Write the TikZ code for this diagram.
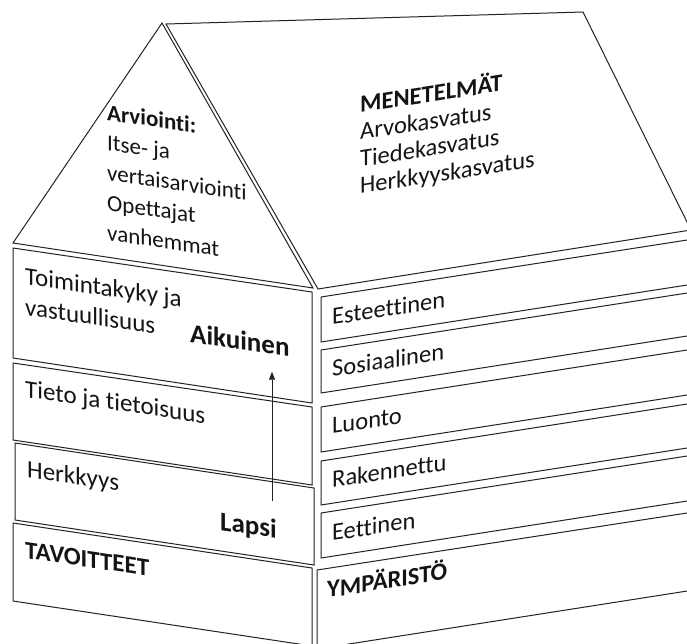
\documentclass[tikz,border=0pt]{standalone}
\usepackage{fontspec}
\setmainfont{Carlito}[Ligatures=NoCommon]
\usetikzlibrary{arrows.meta}
\definecolor{edgecol}{RGB}{35,35,35}
\definecolor{txtcol}{RGB}{20,20,20}
\tikzset{
  wall/.style={draw=edgecol, line width=1pt, fill=white},
  fronttxt/.style={anchor=base west, inner sep=0pt, align=left, yslant=-0.147,
                   text=txtcol, font=\fontsize{25}{31}\selectfont},
  sidetxt/.style={anchor=base west, inner sep=0pt, align=left, yslant=0.155,
                  text=txtcol, font=\fontsize{24.5}{27}\selectfont},
  rooftxt/.style={fronttxt, font=\fontsize{23}{30}\selectfont},
  bigtxt/.style={fronttxt, font=\fontsize{27}{31}\selectfont\bfseries},
  ar/.style={-{Triangle[length=8pt,width=6pt]}, line width=0.8pt, draw=edgecol},
}
\begin{document}
\begin{tikzpicture}[x=1pt, y=-1pt]
  \useasboundingbox (0,0) rectangle (687,643);
  \clip (0,0) rectangle (687,643);
  % roof
  \draw[wall] (162,23) -- (313,288) -- (13,243) -- cycle;
  \draw[wall] (166,24) -- (583,12) -- (691,230) -- (318,289) -- cycle;
  % front wall
  \draw[wall] (13,248) -- (312,292) -- (312,403) -- (13,358) -- cycle;
  \draw[wall] (13,363) -- (312,407) -- (312,485) -- (13,440) -- cycle;
  \draw[wall] (15,443) -- (314,488) -- (314,565) -- (15,520) -- cycle;
  \draw[wall] (13,523) -- (312,568) -- (312,646) -- (13,601) -- cycle;
  % side wall
  \draw[wall] (321,297) -- (700,238) -- (700,283) -- (321,342) -- cycle;
  \draw[wall] (321,350) -- (700,291) -- (700,334) -- (321,393) -- cycle;
  \draw[wall] (321,407) -- (700,348) -- (700,393) -- (321,452) -- cycle;
  \draw[wall] (321,461) -- (700,402) -- (700,446) -- (321,505) -- cycle;
  \draw[wall] (321,513) -- (700,454) -- (700,499) -- (321,558) -- cycle;
  \draw[wall] (317,570) -- (700,511) -- (700,589) -- (317,649) -- cycle;
  % texts (multi-line nodes sit on their last baseline)
  \node[rooftxt] (arviointi) at (107,240)
    {\textbf{Arviointi:}\\Itse- ja\\vertaisarviointi\\Opettajat\\vanhemmat};
  \node[sidetxt] (menetelmat) at (360,194)
    {\textbf{MENETELMÄT}\\Arvokasvatus\\Tiedekasvatus\\Herkkyyskasvatus};
  \node[fronttxt] (toiminta) at (25,315) {Toimintakyky ja\\vastuullisuus};
  \node[bigtxt] (aikuinen) at (190,342) {Aikuinen};
  \node[fronttxt] (tieto) at (25,397) {Tieto ja tietoisuus};
  \node[fronttxt] (herkkyys) at (27,477) {Herkkyys};
  \node[bigtxt] (lapsi) at (220,530) {Lapsi};
  \node[fronttxt] (tavoitteet) at (25,558) {\textbf{TAVOITTEET}};
  \node[sidetxt] (esteettinen) at (332,325) {Esteettinen};
  \node[sidetxt] (sosiaalinen) at (332,377) {Sosiaalinen};
  \node[sidetxt] (luonto) at (332,434) {Luonto};
  \node[sidetxt] (rakennettu) at (332,488) {Rakennettu};
  \node[sidetxt] (eettinen) at (332,541) {Eettinen};
  \node[sidetxt] (ymparisto) at (327,598) {\textbf{YMPÄRISTÖ}};
  % growth arrow
  \coordinate (arrx) at (272,0);
  \draw[ar] ([yshift=14pt]lapsi.north -| arrx) -- ([yshift=-22pt]aikuinen.south -| arrx);
\end{tikzpicture}
\end{document}
